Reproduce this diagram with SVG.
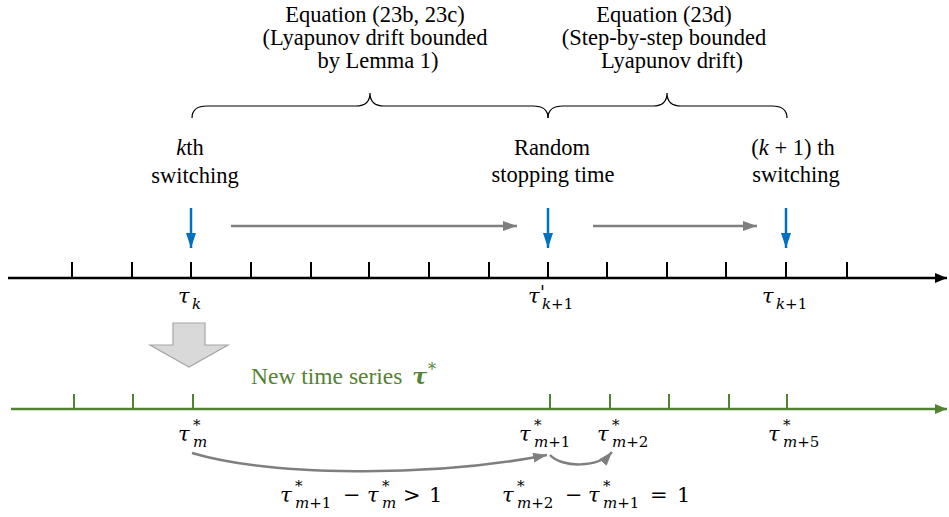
<svg xmlns="http://www.w3.org/2000/svg" width="949" height="517" viewBox="0 0 949 517">
<defs>
<marker id="hBlack" markerUnits="userSpaceOnUse" markerWidth="14" markerHeight="12" refX="12" refY="5" orient="auto"><path d="M0,0 L12,5 L0,10 Z" fill="#000"/></marker>
<marker id="hGreen" markerUnits="userSpaceOnUse" markerWidth="14" markerHeight="12" refX="12" refY="5" orient="auto"><path d="M0,0 L12,5 L0,10 Z" fill="#548235"/></marker>
<marker id="hGray" markerUnits="userSpaceOnUse" markerWidth="16" markerHeight="12" refX="14" refY="5" orient="auto"><path d="M0,0 L14,5 L0,10 Z" fill="#7f7f7f"/></marker>
<marker id="hBlue" markerUnits="userSpaceOnUse" markerWidth="16" markerHeight="12" refX="15" refY="5" orient="auto"><path d="M0,0 L15,5 L0,10 Z" fill="#0070c0"/></marker>
</defs>
<style>
.t{font-family:"Liberation Serif","Times New Roman",serif;font-size:22.5px;fill:#000;text-anchor:middle}
.m{font-family:"DejaVu Serif",serif;font-style:italic;font-size:21px;fill:#000}
.s{font-family:"DejaVu Serif",serif;font-style:normal;font-size:15px;fill:#000}
.o{font-family:"DejaVu Serif",serif;font-size:21px;fill:#000}
.i{font-style:italic}
.tick{stroke:#000;stroke-width:2}
.gtick{stroke:#548235;stroke-width:2}
.gray{stroke:#7f7f7f;stroke-width:2.5;fill:none}
.blue{stroke:#0070c0;stroke-width:2.5;fill:none}
.brace{stroke:#000;stroke-width:1.2;fill:none}
</style>

<g id="label-eq23bc">
<text class="t" x="375" y="22">Equation (23b, 23c)</text>
<text class="t" x="375" y="45">(Lyapunov drift bounded</text>
<text class="t" x="378" y="68">by Lemma 1)</text>
</g>
<g id="label-eq23d">
<text class="t" x="664" y="22">Equation (23d)</text>
<text class="t" x="664" y="45">(Step-by-step bounded</text>
<text class="t" x="672" y="68">Lyapunov drift)</text>
</g>
<g id="braces">
<path class="brace" d="M192,118 Q192,106 207,106 L356,106 Q370,106 370,93 Q370,106 384,106 L533,106 Q548,106 548,118"/>
<path class="brace" d="M548,118 Q548,106 563,106 L653,106 Q667,106 667,93 Q667,106 681,106 L772,106 Q787,106 787,118"/>
</g>

<g id="node-kth">
<text class="t" x="190" y="155"><tspan class="i">k</tspan>th</text>
<text class="t" x="195" y="183">switching</text>
</g>
<g id="node-random">
<text class="t" x="552" y="155">Random</text>
<text class="t" x="553" y="182">stopping time</text>
</g>
<g id="node-k1th">
<text class="t" x="793" y="155">(<tspan class="i">k</tspan> + 1) th</text>
<text class="t" x="796" y="182">switching</text>
</g>

<g id="top-axis">
<line x1="8" y1="278" x2="947" y2="278" stroke="#000" stroke-width="2.5" marker-end="url(#hBlack)"/>
<line class="tick" x1="72" y1="262" x2="72" y2="278"/>
<line class="tick" x1="132" y1="262" x2="132" y2="278"/>
<line class="tick" x1="191" y1="262" x2="191" y2="278"/>
<line class="tick" x1="251" y1="262" x2="251" y2="278"/>
<line class="tick" x1="311" y1="262" x2="311" y2="278"/>
<line class="tick" x1="369" y1="262" x2="369" y2="278"/>
<line class="tick" x1="429" y1="262" x2="429" y2="278"/>
<line class="tick" x1="489" y1="262" x2="489" y2="278"/>
<line class="tick" x1="548" y1="262" x2="548" y2="278"/>
<line class="tick" x1="607" y1="262" x2="607" y2="278"/>
<line class="tick" x1="667" y1="262" x2="667" y2="278"/>
<line class="tick" x1="726" y1="262" x2="726" y2="278"/>
<line class="tick" x1="786" y1="262" x2="786" y2="278"/>
<line class="tick" x1="847" y1="262" x2="847" y2="278"/>
</g>

<g id="top-labels">
<text class="m" x="178" y="303">τ<tspan class="s i" x="192" dy="6">k</tspan></text>
<text class="m" x="528" y="303">τ<tspan class="i" x="540" dy="-4" font-size="18">'</tspan><tspan class="s" x="542" dy="10"><tspan class="i">k</tspan>+1</tspan></text>
<text class="m" x="762" y="303">τ<tspan class="s" x="776" dy="6"><tspan class="i">k</tspan>+1</tspan></text>
</g>

<g id="block-arrow">
<path d="M173,323 L205,323 L205,345 L228,345 L189,367 L150,345 L173,345 Z" fill="#d9d9d9" stroke="#a6a6a6" stroke-width="1.2"/>
</g>

<g id="label-new-series">
<text x="251" y="384" font-family="Liberation Serif, Times New Roman, serif" font-size="23.5" fill="#548235">New time series <tspan font-family="DejaVu Serif, serif" font-weight="bold" font-style="italic" font-size="22" dx="4">τ</tspan><tspan font-family="DejaVu Serif, serif" font-size="16" dy="-9" dx="1">*</tspan></text>
</g>

<g id="bottom-axis">
<line x1="11" y1="409" x2="947" y2="409" stroke="#548235" stroke-width="2.5" marker-end="url(#hGreen)"/>
<line class="gtick" x1="74" y1="394" x2="74" y2="409"/>
<line class="gtick" x1="133" y1="394" x2="133" y2="409"/>
<line class="gtick" x1="193" y1="394" x2="193" y2="409"/>
<line class="gtick" x1="550" y1="394" x2="550" y2="409"/>
<line class="gtick" x1="610" y1="394" x2="610" y2="409"/>
<line class="gtick" x1="669" y1="394" x2="669" y2="409"/>
<line class="gtick" x1="729" y1="394" x2="729" y2="409"/>
<line class="gtick" x1="787" y1="394" x2="787" y2="409"/>
</g>

<g id="bottom-labels">
<text class="m" x="178" y="441">τ<tspan class="s" x="193" dy="-11">*</tspan><tspan class="s i" x="193" dy="17">m</tspan></text>
<text class="m" x="519" y="441">τ<tspan class="s" x="534" dy="-11">*</tspan><tspan class="s" x="534" dy="17"><tspan class="i">m</tspan>+1</tspan></text>
<text class="m" x="597" y="441">τ<tspan class="s" x="612" dy="-11">*</tspan><tspan class="s" x="612" dy="17"><tspan class="i">m</tspan>+2</tspan></text>
<text class="m" x="768" y="441">τ<tspan class="s" x="783" dy="-11">*</tspan><tspan class="s" x="783" dy="17"><tspan class="i">m</tspan>+5</tspan></text>
</g>

<g id="connectors">
<line class="blue" x1="191" y1="208" x2="191" y2="248" marker-end="url(#hBlue)"/>
<line class="blue" x1="548" y1="208" x2="548" y2="248" marker-end="url(#hBlue)"/>
<line class="blue" x1="786" y1="208" x2="786" y2="248" marker-end="url(#hBlue)"/>
<line class="gray" x1="231" y1="226" x2="517" y2="226" marker-end="url(#hGray)"/>
<line class="gray" x1="593" y1="226" x2="757" y2="226" marker-end="url(#hGray)"/>
<path class="gray" stroke-width="1.6" d="M192,453 C270,476 430,478 547,455" marker-end="url(#hGray)"/>
<path class="gray" stroke-width="1.6" d="M550,455 C562,468 598,468 612,452" marker-end="url(#hGray)"/>
</g>

<g id="formulas">
<text class="m" x="280" y="502">τ<tspan class="s" x="295" dy="-11">*</tspan><tspan class="s" x="295" dy="17"><tspan class="i">m</tspan>+1</tspan></text>
<text class="o" x="343" y="502">−</text>
<text class="m" x="367" y="502">τ<tspan class="s" x="382" dy="-11">*</tspan><tspan class="s i" x="382" dy="17">m</tspan></text>
<text class="o" x="403" y="502">&gt;</text>
<text class="o" x="429" y="502">1</text>
<text class="m" x="502" y="502">τ<tspan class="s" x="517" dy="-11">*</tspan><tspan class="s" x="517" dy="17"><tspan class="i">m</tspan>+2</tspan></text>
<text class="o" x="565" y="502">−</text>
<text class="m" x="588" y="502">τ<tspan class="s" x="603" dy="-11">*</tspan><tspan class="s" x="603" dy="17"><tspan class="i">m</tspan>+1</tspan></text>
<text class="o" x="650" y="502">=</text>
<text class="o" x="677" y="502">1</text>
</g>
</svg>
